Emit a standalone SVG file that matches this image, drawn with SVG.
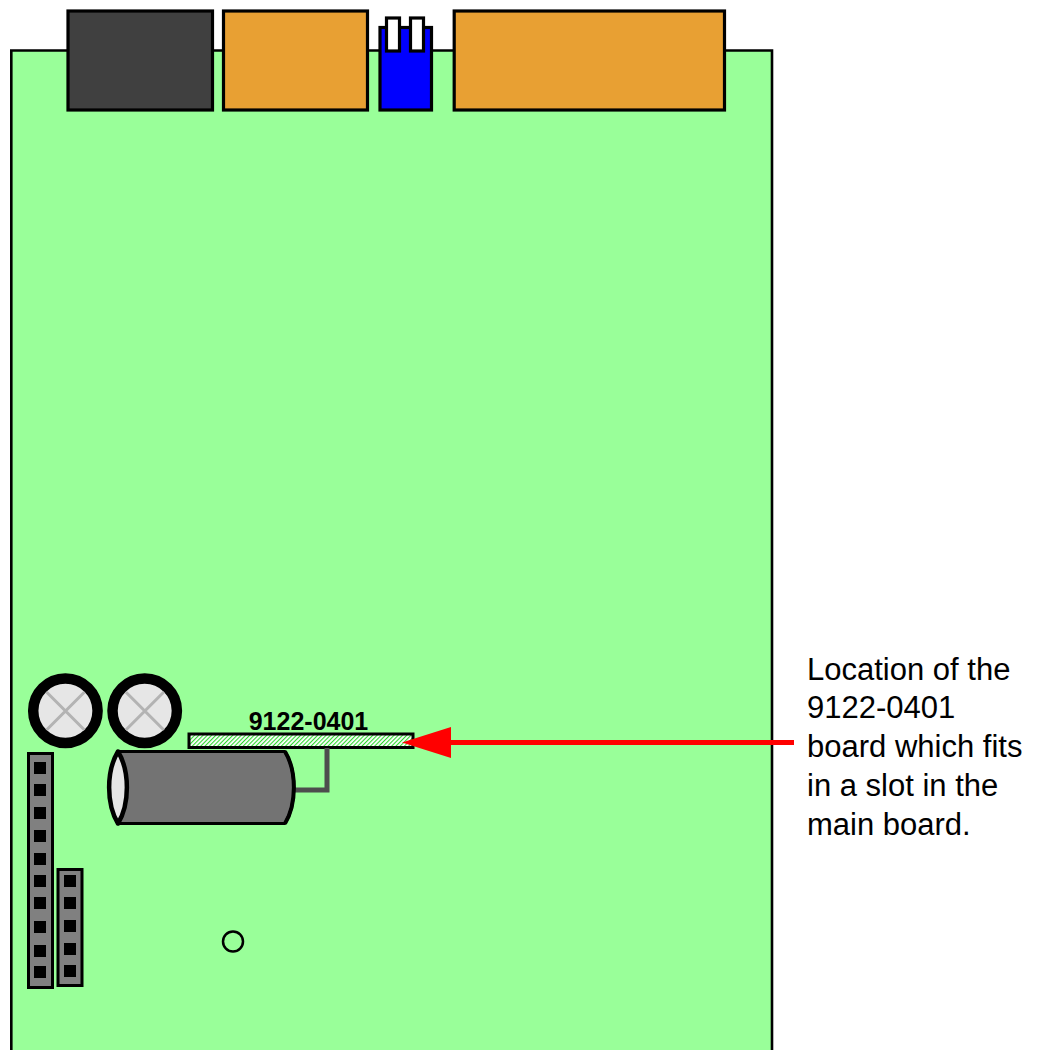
<svg xmlns="http://www.w3.org/2000/svg" width="1040" height="1050" viewBox="0 0 1040 1050">
<style>
.k{stroke:#000;stroke-width:3.200}
.org{fill:#e8a033}
.wht{fill:#fff}
.hdr{fill:#808080;stroke:#000;stroke-width:3}
.pin{fill:#000}
.knob{fill:#e6e6e6;stroke:#000;stroke-width:10.500}
.x{stroke:#b3b3b3;stroke-width:3;fill:none}
.cap{stroke:#000;stroke-linejoin:round}
text{font-family:"Liberation Sans",Arial,sans-serif;fill:#000}
</style>
<defs>
<pattern id="hatch" width="3" height="3" patternUnits="userSpaceOnUse" patternTransform="rotate(-45)">
<rect width="3" height="3" fill="#fff"/><rect width="3" height="1.100" fill="#2fd62f"/>
</pattern>
</defs>
<rect width="1040" height="1050" fill="#fff"/>
<g id="board"><path d="M11.300 1052V50.500H772V1052" fill="#99ff99" stroke="#000" stroke-width="2.600"/></g>
<g id="conn-dark"><rect class="k" x="68" y="11" width="144.500" height="99" fill="#404040"/></g>
<g id="conn-orange-1"><rect class="k org" x="223.500" y="11" width="144" height="99"/></g>
<g id="conn-blue">
<rect class="k" x="380" y="27.500" width="51.500" height="82.500" fill="#00f"/>
<rect class="k wht" x="386.500" y="18" width="13" height="33"/>
<rect class="k wht" x="410.500" y="18" width="13" height="33"/>
</g>
<g id="conn-orange-2"><rect class="k org" x="454.200" y="11" width="270.300" height="99"/></g>
<g id="knob-1"><circle class="knob" cx="65.400" cy="710.800" r="32.200"/><path class="x" d="M46.500 692L84.500 730M84.500 692L46.500 730"/></g>
<g id="knob-2"><circle class="knob" cx="144.700" cy="710.800" r="32.200"/><path class="x" d="M125.800 692L163.800 730M163.800 692L125.800 730"/></g>
<g id="board-9122">
<rect x="189" y="734" width="224" height="13.500" fill="url(#hatch)" stroke="#000" stroke-width="3"/>
<text x="308.500" y="729.500" font-size="25" font-weight="700" text-anchor="middle">9122-0401</text>
</g>
<g id="connectors">
<path d="M327 748V790H293" fill="none" stroke="#4d4d4d" stroke-width="5"/>
<path d="M794 742.500H445" fill="none" stroke="#f00" stroke-width="5"/>
<polygon points="451,727 451,758 402,742.500" fill="#f00"/>
</g>
<g id="capacitor">
<path class="cap" d="M118 751.500H285A29 50 0 0 1 285 823.500H118Z" fill="#737373" stroke-width="3"/>
<path class="cap" d="M285 751.500A29 50 0 0 1 285 823.500" fill="none" stroke-width="4"/>
<path class="cap" d="M118 751.500A29 50 0 0 1 118 823.500A29 50 0 0 1 118 751.500Z" fill="#e6e6e6" stroke-width="4.500"/>
</g>
<g id="header-long">
<rect class="hdr" x="28.500" y="753.500" width="24" height="234"/>
<g class="pin">
<rect x="34" y="762" width="12" height="12"/><rect x="34" y="784" width="12" height="12"/><rect x="34" y="807" width="12" height="12"/><rect x="34" y="830" width="12" height="12"/><rect x="34" y="853" width="12" height="12"/><rect x="34" y="875" width="12" height="12"/><rect x="34" y="897" width="12" height="12"/><rect x="34" y="921" width="12" height="12"/><rect x="34" y="945" width="12" height="12"/><rect x="34" y="966" width="12" height="12"/>
</g>
</g>
<g id="header-short">
<rect class="hdr" x="58" y="869.500" width="24" height="116"/>
<g class="pin">
<rect x="64" y="875" width="12" height="12"/><rect x="64" y="897" width="12" height="12"/><rect x="64" y="920" width="12" height="12"/><rect x="64" y="943" width="12" height="12"/><rect x="64" y="965" width="12" height="12"/>
</g>
</g>
<g id="hole"><circle cx="233" cy="941.500" r="10" fill="none" stroke="#000" stroke-width="2.500"/></g>
<g id="caption" font-size="31">
<text x="807" y="680">Location of the</text>
<text x="807" y="718">9122-0401</text>
<text x="807" y="757">board which fits</text>
<text x="807" y="796">in a slot in the</text>
<text x="807" y="835">main board.</text>
</g>
</svg>
